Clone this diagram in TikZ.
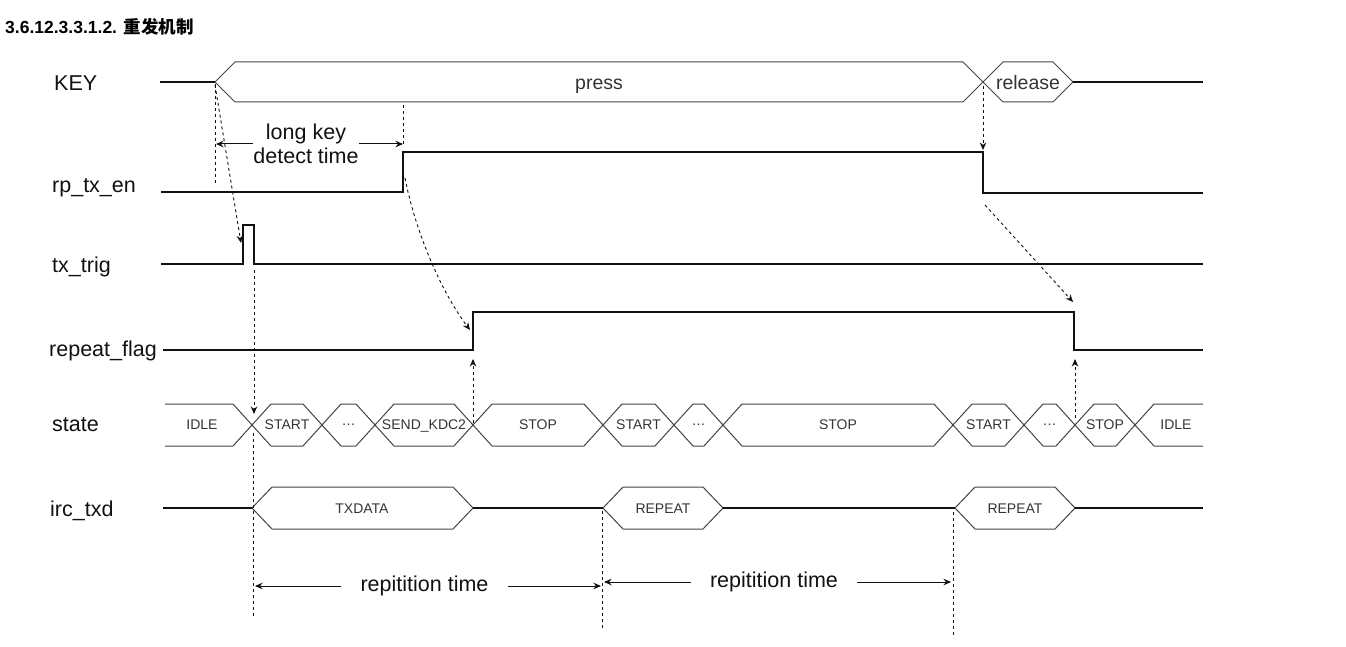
\documentclass[tikz,border=0pt]{standalone}
\usepackage{fontspec}
\setmainfont{Liberation Sans}
\newfontfamily\cjk{Noto Sans CJK SC}
\usetikzlibrary{arrows.meta,positioning,calc}
\definecolor{Ink}{HTML}{111111}
\definecolor{BusLine}{HTML}{444444}
\definecolor{BusText}{HTML}{333333}
\tikzset{
  sig/.style={draw=Ink,line width=1.4pt},
  bus/.style={draw=BusLine,line width=1pt},
  signame/.style={anchor=base west,inner sep=0pt,font=\fontsize{21.5}{25}\selectfont,text=Ink},
  busname/.style={inner sep=0pt,text depth=0pt,font=\fontsize{14}{16}\selectfont,text=BusText},
  keyname/.style={anchor=base,inner sep=0pt,font=\fontsize{19.5}{22}\selectfont,text=BusText},
  guide/.style={draw=Ink,line width=0.9pt,dash pattern=on 3pt off 3pt},
  guidearrow/.style={guide,-{Stealth[length=7.5pt,width=6.5pt]}},
  span/.style={draw=Ink,line width=1pt,-{Stealth[length=7.5pt,width=6.5pt]}},
  spanlabel/.style={inner ysep=0pt,inner xsep=0pt,font=\fontsize{21.5}{24.5}\selectfont,align=center,text=Ink}
}
\begin{document}
\begin{tikzpicture}[x=1pt,y=-1pt]
  \useasboundingbox (0,0) rectangle (1346,647);
  \node[anchor=west,inner sep=0pt,font=\fontsize{17.5}{20}\selectfont\bfseries] (title) at (5,27) {3.6.12.3.3.1.2. {\cjk\bfseries 重发机制}};
  % signal names
  \node[signame] (lblKey) at (54,90.7) {KEY};
  \node[signame] (lblRp) at (52,192.7) {rp\_tx\_en};
  \node[signame] (lblTrig) at (52,272) {tx\_trig};
  \node[signame] (lblFlag) at (49,356.5) {repeat\_flag};
  \node[signame] (lblState) at (52,431.5) {state};
  \node[signame] (lblTxd) at (50,516) {irc\_txd};
  % KEY
  \draw[sig] (160,82) -- (215,82);
  \draw[bus] (215,82) -- (235,62) -- (963,62) -- (983,82) -- (963,102) -- (235,102) -- cycle;
  \draw[bus] (983,82) -- (1003,62) -- (1053,62) -- (1073,82) -- (1053,102) -- (1003,102) -- cycle;
  \draw[sig] (1073,82) -- (1203,82);
  \node[keyname] (press) at (599,90) {press};
  \node[keyname] (release) at (1028,89.5) {release};
  % rp_tx_en, tx_trig, repeat_flag
  \draw[sig] (161,192) -- (403,192) -- (403,152) -- (983,152) -- (983,193) -- (1203,193);
  \draw[sig] (161,264) -- (243,264) -- (243,225) -- (254,225) -- (254,264) -- (1203,264);
  \draw[sig] (163,350) -- (473,350) -- (473,312) -- (1074,312) -- (1074,350) -- (1203,350);
  % state
  \draw[bus] (165,404) -- (233,404) -- (252,425) -- (233,446) -- (165,446);
  \node[busname] (stIdle) at (202,425) {IDLE};
  \foreach \a/\b/\t [count=\i] in {252/322/START, 322/375/\ldots, 375/473/SEND\_KDC2, 473/603/STOP,
      603/674/START, 674/723/\ldots, 723/953/STOP, 953/1024/START, 1024/1075/\ldots, 1075/1135/STOP}{
    \draw[bus] (\a,425) -- (\a+19,404) -- (\b-19,404) -- (\b,425) -- (\b-19,446) -- (\a+19,446) -- cycle;
    \node[busname] (st\i) at ({(\a+\b)/2},425) {\t};
  }
  \draw[bus] (1203,404) -- (1154,404) -- (1135,425) -- (1154,446) -- (1203,446);
  \node[busname] (stEnd) at (1176,425) {IDLE};
  % irc_txd
  \draw[sig] (163,508) -- (252,508);
  \draw[bus] (252,508) -- (272,487) -- (453,487) -- (473,508) -- (453,529) -- (272,529) -- cycle;
  \draw[sig] (473,508) -- (603,508);
  \draw[bus] (603,508) -- (623,487) -- (703,487) -- (723,508) -- (703,529) -- (623,529) -- cycle;
  \draw[sig] (723,508) -- (955,508);
  \draw[bus] (955,508) -- (975,487) -- (1055,487) -- (1075,508) -- (1055,529) -- (975,529) -- cycle;
  \draw[sig] (1075,508) -- (1203,508);
  \node[busname] (txdata) at (362,509) {TXDATA};
  \node[busname] (rep1) at (663,509) {REPEAT};
  \node[busname] (rep2) at (1015,509) {REPEAT};
  % long key detect time
  \coordinate (lkL) at (216,144);
  \coordinate (lkR) at (403,144);
  \draw[guide] (215,84) -- (215,185);
  \draw[guide] (403,105) -- (lkR);
  \node[spanlabel] (lkt) at (306,144) {long key\\detect time};
  \draw[span] (lkt.west) -- (lkL);
  \draw[span] (lkt.east) -- (lkR);
  % cause and effect
  \draw[guidearrow] (215,85) -- (241,243);
  \draw[guidearrow] (405,178) .. controls (415,230) and (440,290) .. (470,330);
  \draw[guidearrow] (254,270) -- (254,414);
  \draw[guidearrow] (473,423) -- (473,359);
  \draw[guidearrow] (983,86) -- (983,150);
  \draw[guidearrow] (985,205) -- (1073,302);
  \draw[guidearrow] (1075,418) -- (1075,359);
  % repitition time
  \draw[guide] (253,433) -- (253,618);
  \draw[guide] (602,511) -- (602,630);
  \draw[guide] (953,512) -- (953,638);
  \node[spanlabel,inner xsep=19pt] (rt1) at (424.5,586) {repitition time};
  \draw[span] (rt1.west) -- (255,586);
  \draw[span] (rt1.east) -- (601,586);
  \node[spanlabel,inner xsep=19pt] (rt2) at (774,582) {repitition time};
  \draw[span] (rt2.west) -- (604,582);
  \draw[span] (rt2.east) -- (951,582);
\end{tikzpicture}
\end{document}
